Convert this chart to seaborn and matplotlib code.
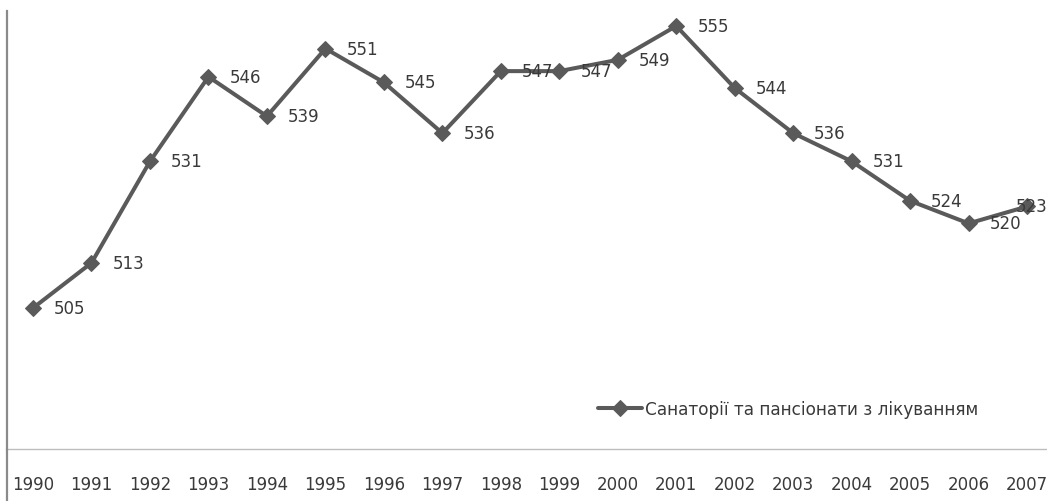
import matplotlib
matplotlib.use("Agg")
import matplotlib.pyplot as plt
import seaborn as sns
import numpy as np
import pandas as pd
from matplotlib.lines import Line2D

years = ["1990", "1991", "1992", "1993", "1994", "1995", "1996", "1997", "1998",
         "1999", "2000", "2001", "2002", "2003", "2004", "2005", "2006", "2007"]
values = [505, 513, 531, 546, 539, 551, 545, 536, 547, 547, 549, 555, 544, 536, 531, 524, 520, 523]
series_name = "Санаторії та пансіонати з лікуванням"

sns.set_theme(style="white")
plt.rcParams['font.family'] = ['DejaVu Sans']

W, H = 1047, 502
fig = plt.figure(figsize=(W / 100, H / 100), dpi=100)
ax = fig.add_axes([7 / W, (H - 450) / H, (W - 7) / W, (450 - 12) / H])

df = pd.DataFrame({"idx": np.arange(len(years)), "val": values})
line_color = "#5a5a5a"
text_color = "#3a3a3a"
sns.lineplot(data=df, x="idx", y="val", ax=ax, color=line_color, linewidth=2.9,
             marker="D", markersize=8, markeredgecolor=line_color,
             markerfacecolor=line_color, label=series_name)

n = len(values)
for i, v in enumerate(values):
    if i == n - 1:
        # last label is pushed back inside the chart area
        ax.annotate(str(v), (i, v), xytext=(20, 0), textcoords="offset pixels",
                    ha="right", va="center", fontsize=12, color=text_color)
    else:
        ax.annotate(str(v), (i, v), xytext=(21, 0), textcoords="offset pixels",
                    ha="left", va="center", fontsize=12, color=text_color)

ax.set_xlim(-0.445, 17.34)
ax.set_ylim(480, 557.66)
ax.set_xticks(np.arange(len(years)))
ax.set_xticklabels(years, fontsize=12, color=text_color)
ax.set_yticks([])
ax.set_xlabel("")
ax.set_ylabel("")
ax.tick_params(axis="x", length=0, pad=19)

for s in ["top", "right"]:
    ax.spines[s].set_visible(False)
ax.spines["left"].set_color("#8a8a8a")
ax.spines["left"].set_linewidth(1.6)
ax.spines["bottom"].set_color("#bdbdbd")
ax.spines["bottom"].set_linewidth(1.0)

# extension of the vertical axis below the horizontal axis
fig.add_artist(Line2D([7 / W, 7 / W], [0, (H - 450) / H], transform=fig.transFigure,
                      color="#8a8a8a", linewidth=1.6))

leg = ax.legend(loc="center left", bbox_to_anchor=(598 / W, 1 - 410 / H),
                bbox_transform=fig.transFigure, frameon=False, fontsize=12.2,
                handlelength=2.6, handletextpad=0.15, borderpad=0, borderaxespad=0)
for t in leg.get_texts():
    t.set_color(text_color)

fig.savefig("out.png", dpi=100)
